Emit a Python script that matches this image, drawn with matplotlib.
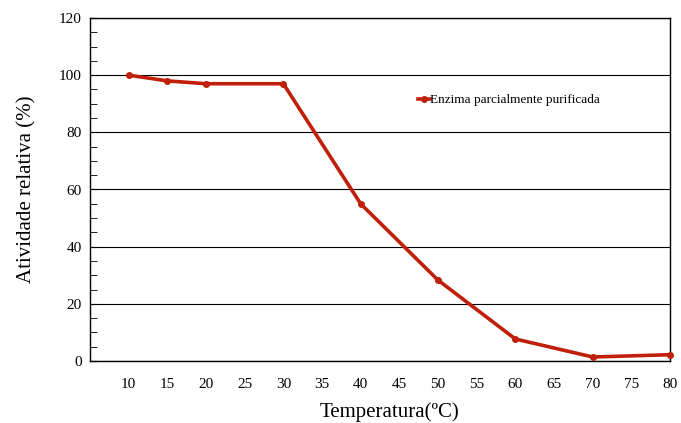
import numpy as np
import matplotlib.pyplot as plt

plt.rcParams['font.family'] = ['Liberation Serif', 'DejaVu Serif']

temp = [10, 15, 20, 30, 40, 50, 60, 70, 80]
atividade = [100, 98, 97, 97, 55, 28.3, 7.7, 1.4, 2.2]
xticks = list(range(10, 85, 5))

fig = plt.figure(figsize=(6.81, 4.23), dpi=100)
ax = fig.add_axes([90/681, 1-361/423, 580/681, 343/423])

ax.plot(temp, atividade, '-o', color='#C0200A', lw=2.6, ms=4, clip_on=False,
        label='Enzima parcialmente purificada', zorder=3)

ax.set_xlim(5, 80)
ax.set_ylim(0, 120)
ax.set_xticks(xticks)
ax.set_yticks(range(0, 121, 20))
ax.set_yticks(range(0, 121, 5), minor=True)
ax.tick_params(axis='x', length=0, pad=12, labelsize=11)
ax.tick_params(axis='y', which='both', direction='in', length=5, labelsize=11, pad=6)
ax.grid(axis='y', color='black', lw=0.8)
for s in ax.spines.values():
    s.set_linewidth(1.0)

ax.set_xlabel('Temperatura(ºC)', fontsize=15)
ax.xaxis.set_label_coords(0.517, -0.12)
ax.set_ylabel('Atividade relativa (%)', fontsize=15, labelpad=16)

ax.legend(loc='center left', bbox_to_anchor=(0.545, 0.76), frameon=False,
          fontsize=9.5, handlelength=0.9, handletextpad=0.0, markerscale=1.0)

fig.savefig('out.png', dpi=100)
